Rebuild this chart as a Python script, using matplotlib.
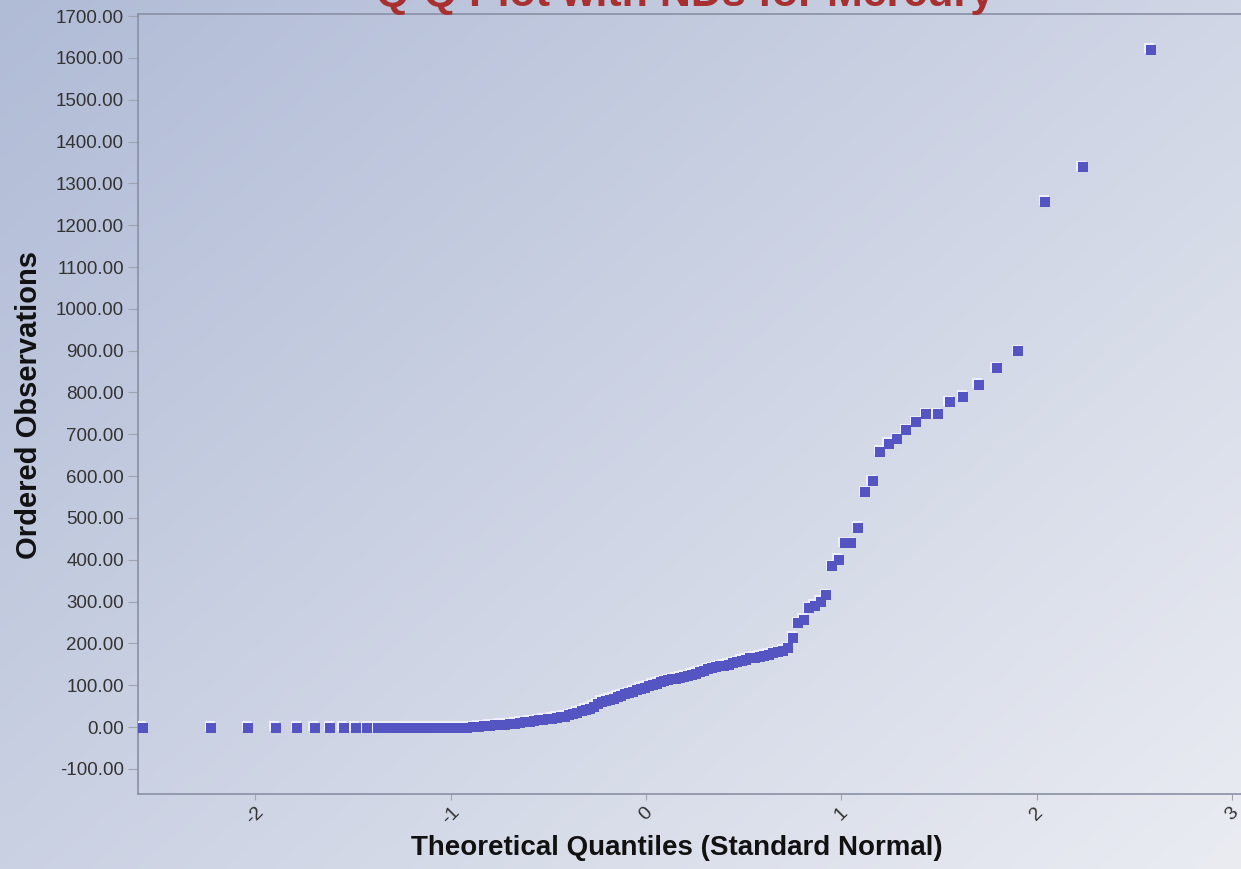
import numpy as np
import matplotlib
matplotlib.use("Agg")
import matplotlib.pyplot as plt
from matplotlib.transforms import offset_copy

#### Data: theoretical quantiles (standard normal) and ordered observations ####
theoretical_q = [
    -2.58, -2.23, -2.04, -1.90, -1.79, -1.70, -1.62, -1.55, -1.49, -1.43,
    -1.378, -1.328, -1.282, -1.237, -1.195, -1.156, -1.118, -1.082, -1.047, -1.013,
    -0.981, -0.950, -0.919, -0.889, -0.860, -0.831, -0.803, -0.776, -0.750, -0.724,
    -0.698, -0.673, -0.648, -0.624, -0.600, -0.577, -0.553, -0.530, -0.507, -0.485,
    -0.462, -0.441, -0.419, -0.397, -0.376, -0.355, -0.334, -0.313, -0.292, -0.272,
    -0.251, -0.231, -0.211, -0.191, -0.170, -0.150, -0.130, -0.110, -0.090, -0.070,
    -0.050, -0.030, -0.010,
    0.010, 0.030, 0.050, 0.070, 0.090, 0.110, 0.130, 0.150, 0.170, 0.191,
    0.211, 0.231, 0.251, 0.272, 0.292, 0.313, 0.334, 0.355, 0.376, 0.397,
    0.419, 0.441, 0.462, 0.485, 0.507, 0.530, 0.553, 0.577, 0.600, 0.624,
    0.648, 0.673, 0.698, 0.724, 0.750, 0.776, 0.803, 0.831, 0.860, 0.889,
    0.919, 0.950, 0.981, 1.013, 1.047, 1.082, 1.118, 1.156, 1.195, 1.237,
    1.282, 1.328, 1.378, 1.43, 1.49, 1.55, 1.62, 1.70, 1.79, 1.90,
    2.04, 2.23, 2.58,
]
ordered_obs = [
    0, 0, 0, 0, 0, 0, 0, 0, 0, 0,
    0, 0, 0, 0, 0, 0, 0, 0, 0, 0,
    0, 0, 0, 2, 3, 4, 5, 6, 7, 8,
    9, 10, 12, 13, 15, 16, 18, 19, 21, 22,
    24, 25, 27, 30, 33, 36, 40, 43, 46, 50,
    56, 62, 65, 67, 70, 74, 77, 80, 83, 86,
    90, 93, 96, 99, 103, 106, 109, 112, 114, 116,
    118, 120, 122, 124, 127, 130, 133, 136, 140, 143,
    145, 147, 149, 151, 154, 157, 160, 163, 166, 168,
    170, 172, 175, 178, 181, 184, 190, 215, 250, 259,
    286, 292, 302, 317, 386, 402, 442, 442, 479, 563,
    590, 660, 679, 690, 712, 731, 750, 750, 779, 792,
    820, 860, 900, 1258, 1340, 1622,
]
x_ticks = [-2, -1, 0, 1, 2, 3]
y_ticks = list(range(-100, 1800, 100))

title = "Q-Q Plot with NDs for Mercury"
x_label = "Theoretical Quantiles (Standard Normal)"
y_label = "Ordered Observations"

plt.rcParams['font.family'] = ['Liberation Sans', 'DejaVu Sans']
plt.rcParams['axes.unicode_minus'] = False

W, H = 1241, 869
fig = plt.figure(figsize=(W / 100, H / 100), dpi=100)

#### Background gradient ####
bg = fig.add_axes([0, 0, 1, 1], zorder=-10)
gx, gy = np.meshgrid(np.linspace(0, 1, 300), np.linspace(0, 1, 200))
t = np.clip(0.55 * gx + 0.45 * gy, 0, 1)
c0 = np.array([176, 187, 214]) / 255.0
c1 = np.array([234, 236, 242]) / 255.0
img = c0[None, None, :] * (1 - t[..., None]) + c1[None, None, :] * t[..., None]
bg.imshow(img, aspect='auto', extent=[0, 1, 0, 1], interpolation='bilinear')
bg.axis('off')

#### Plot area ####
left, right, top, bottom = 138, 1241, 14, 794
ax = fig.add_axes([left / W, 1 - bottom / H, (right - left) / W, (bottom - top) / H])
ax.patch.set_alpha(0)

xs = np.array(theoretical_q)
ys = np.array(ordered_obs)
hi = offset_copy(ax.transData, fig=fig, x=-0.7, y=0.7, units='dots')
lo = offset_copy(ax.transData, fig=fig, x=0.8, y=-0.8, units='dots')
ax.scatter(xs, ys, s=58, marker='s', color='#eeeefc', linewidths=0, transform=hi, zorder=3)
ax.scatter(xs, ys, s=42, marker='s', color='#5454c2', linewidths=0, transform=lo, zorder=4)

ax.set_xlim(-2.60, 3.045)
ax.set_ylim(-160, 1705)
ax.set_xticks(x_ticks)
ax.set_xticklabels([str(v) for v in x_ticks], rotation=45, ha='center', va='top')
ax.set_yticks(y_ticks)
ax.set_yticklabels(["%.2f" % v for v in y_ticks])

for s in ['left', 'bottom', 'top']:
    ax.spines[s].set_color('#8a90a4')
    ax.spines[s].set_linewidth(1.2)
ax.spines['right'].set_visible(False)

ax.tick_params(axis='y', length=7, width=0.8, color='#a0a4b0', pad=3,
               labelsize=13.5, labelcolor='#333333')
ax.tick_params(axis='x', length=4, width=0.8, color='#a0a4b0', pad=3,
               labelsize=14, labelcolor='#333333')

fig.text(677 / W, 1 - 848 / H, x_label, ha='center', va='center', fontsize=20,
         fontweight='bold', color='#111111')
fig.text(29 / W, 1 - 405 / H, y_label, ha='center', va='center', rotation=90,
         fontsize=21, fontweight='bold', color='#111111')

fig.text(685 / W, 1 - 6 / H, title, ha='center', va='baseline', fontsize=31,
         fontweight='bold', color='#a83030')

fig.savefig('out.png', dpi=100)
